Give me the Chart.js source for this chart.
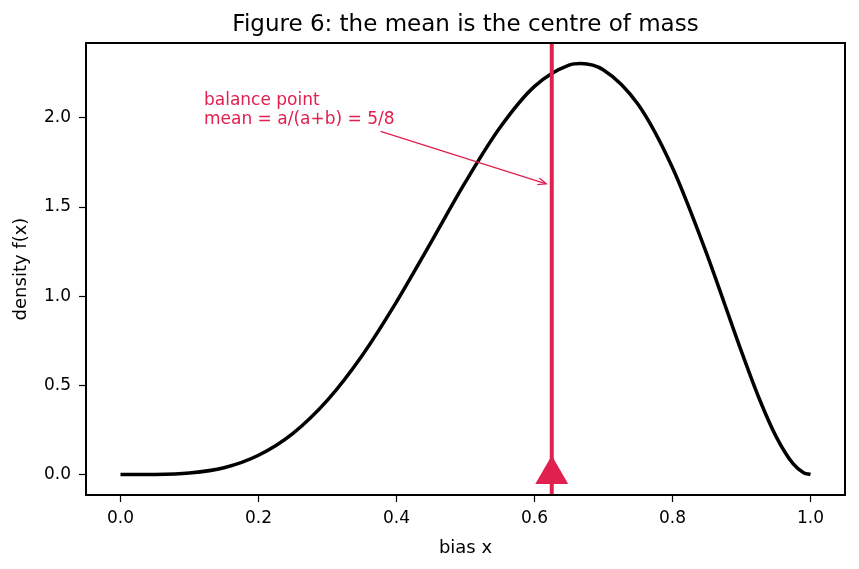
<!DOCTYPE html>
<html>
<head>
<meta charset="utf-8">
<script src="https://cdn.jsdelivr.net/npm/chart.js@4"></script>
<style>
  body { margin: 0; background: #fff; }
  #wrap { width: 859px; height: 569px; }
</style>
</head>
<body>
<div id="wrap"><canvas id="myChart" width="859" height="569"></canvas></div>
<script>
// density
var xs = [0, 0.05, 0.1, 0.15, 0.2, 0.25, 0.3, 0.35, 0.4, 0.45, 0.5, 0.55, 0.6, 0.65, 0.667, 0.7, 0.75, 0.8, 0.85, 0.875, 0.9, 0.925, 0.95, 0.975, 0.99, 1.0];
var density = [0, 0.0006, 0.0085, 0.038, 0.108, 0.231, 0.417, 0.666, 0.968, 1.302, 1.641, 1.946, 2.177, 2.296, 2.305, 2.269, 2.076, 1.720, 1.233, 0.962, 0.689, 0.432, 0.214, 0.059, 0.010, 0];
var meanX = 0.625;
var xTicks = [0, 0.2, 0.4, 0.6, 0.8, 1.0];
var yTicks = [0, 0.5, 1.0, 1.5, 2.0];
var noteLines = ["balance point", "mean = a/(a+b) = 5/8"];
var titleText = "Figure 6: the mean is the centre of mass";

var red = "#e0204f";
var font = "DejaVu Sans";

var curve = xs.map(function(x, i){ return {x: x, y: density[i]}; });

// title over the axes, red vertical line, arrow note, black frame
var extras = {
	id: "extras",
	afterDatasetsDraw: function(chart){
		var c = chart.ctx, a = chart.chartArea;
		var sx = chart.scales.x, sy = chart.scales.y;
		var mx = sx.getPixelForValue(meanX);
		c.save();
		c.strokeStyle = red;
		c.lineWidth = 4;
		c.beginPath();
		c.moveTo(mx, a.top);
		c.lineTo(mx, a.bottom);
		c.stroke();

		// note text
		c.fillStyle = red;
		c.font = "17px '" + font + "'";
		c.textBaseline = "alphabetic";
		var tx = sx.getPixelForValue(0.121);
		c.fillText(noteLines[0], tx, sy.getPixelForValue(2.075));
		c.fillText(noteLines[1], tx, sy.getPixelForValue(1.965));

		// arrow
		var x0 = sx.getPixelForValue(0.377), y0 = sy.getPixelForValue(1.925);
		var x1 = sx.getPixelForValue(0.617), y1 = sy.getPixelForValue(1.63);
		c.lineWidth = 1.3;
		c.beginPath();
		c.moveTo(x0, y0);
		c.lineTo(x1, y1);
		c.stroke();
		var ang = Math.atan2(y1 - y0, x1 - x0);
		c.beginPath();
		c.moveTo(x1 - 9 * Math.cos(ang - 0.4), y1 - 9 * Math.sin(ang - 0.4));
		c.lineTo(x1, y1);
		c.lineTo(x1 - 9 * Math.cos(ang + 0.4), y1 - 9 * Math.sin(ang + 0.4));
		c.stroke();

		c.strokeStyle = "#000";
		c.lineWidth = 2;
		c.strokeRect(a.left, a.top, a.right - a.left, a.bottom - a.top);

		c.fillStyle = "#000";
		c.font = "23px '" + font + "'";
		c.textAlign = "center";
		c.fillText(titleText, (a.left + a.right) / 2, 31);
		c.restore();
	}
};

var ctx = document.getElementById("myChart").getContext("2d");
new Chart(ctx, {
	type: "scatter",
	data: {
		datasets: [
		{
			data: [{x: meanX, y: 0}],
			pointStyle: "triangle",
			pointRadius: 19,
			backgroundColor: red,
			borderColor: red,
			borderWidth: 0,
			order: 0
		},
		{
			data: curve,
			showLine: true,
			borderColor: "#000",
			borderWidth: 3.5,
			pointRadius: 0,
			cubicInterpolationMode: "monotone",
			fill: false,
			order: 1
		}
		]
	},
	options: {
		responsive: false,
		animation: false,
		layout: { autoPadding: false, padding: { top: 43, right: 14, left: 0, bottom: 0 } },
		plugins: {
			legend: { display: false },
			tooltip: { enabled: false },
			title: { display: false }
		},
		scales: {
			x: {
				type: "linear",
				min: -0.05, max: 1.05,
				afterBuildTicks: function(s){ s.ticks = xTicks.map(function(v){ return {value: v}; }); },
				afterFit: function(s){ s.height = 74; s.paddingLeft = 0; s.paddingRight = 0; },
				ticks: {
					color: "#000",
					font: { family: font, size: 17 },
					padding: 6,
					maxRotation: 0,
					callback: function(v){ return v.toFixed(1); }
				},
				grid: { drawOnChartArea: false, tickLength: 7, color: "#000", tickWidth: 1.2 },
				border: { display: false },
				title: { display: true, text: "bias x", color: "#000", font: { family: font, size: 18 }, padding: { top: 6, bottom: 10 } }
			},
			y: {
				min: -0.115, max: 2.42,
				afterBuildTicks: function(s){ s.ticks = yTicks.map(function(v){ return {value: v}; }); },
				afterFit: function(s){ s.width = 86; s.paddingTop = 0; s.paddingBottom = 0; },
				ticks: {
					color: "#000",
					font: { family: font, size: 17 },
					padding: 8,
					callback: function(v){ return v.toFixed(1); }
				},
				grid: { drawOnChartArea: false, tickLength: 7, color: "#000", tickWidth: 1.2 },
				border: { display: false },
				title: { display: true, text: "density f(x)", color: "#000", font: { family: font, size: 18 }, padding: { top: 11, bottom: 8 } }
			}
		}
	},
	plugins: [extras]
});
</script>
</body>
</html>
